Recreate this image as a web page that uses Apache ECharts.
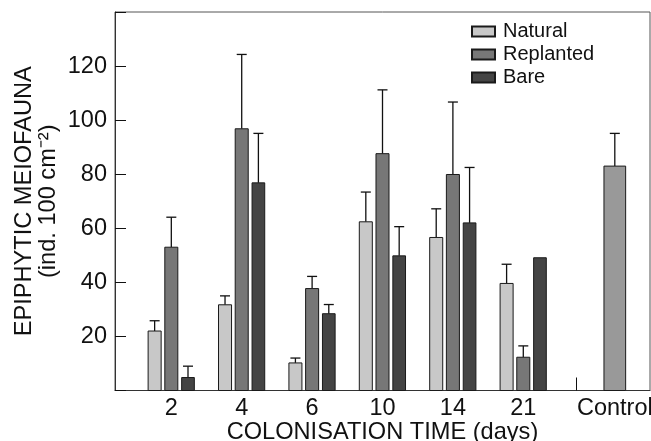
<!DOCTYPE html>
<html>
<head>
<meta charset="utf-8">
<script src="https://cdn.jsdelivr.net/npm/echarts@6/dist/echarts.min.js"></script>
<style>
  html, body { margin: 0; padding: 0; background: #fff; }
  #chart { width: 651px; height: 441px; }
</style>
</head>
<body>
<div id="chart"></div>
<script>
// categories (colonisation time, days) + control
const categories = ['2', '4', '6', '10', '14', '21', 'Control'];
const seriesNames = ['Natural', 'Replanted', 'Bare'];

// means and standard errors
const natural = [22, 31.7, 10.2, 62.4, 56.6, 39.6];
const naturalErr = [3.8, 3.3, 1.8, 11, 10.6, 7.1];
const replanted = [53, 96.8, 37.7, 87.6, 79.9, 12.3];
const replantedErr = [11.1, 27.5, 4.5, 23.6, 26.8, 4.2];
const bare = [4.8, 76.8, 28.4, 49.8, 62, 49.1];
const bareErr = [4.2, 18.3, 3.4, 10.8, 20.5, 0];
const control = [83];
const controlErr = [12.1];

const yTicks = [20, 40, 60, 80, 100, 120];

const FONT = "'Liberation Sans', Arial, sans-serif";
const chart = echarts.init(document.getElementById('chart'));

// x position of a category; the control sits a little further right
function pos(i) {
  return i < 6 ? i : i + 0.3;
}

function barSeries(name, values, errs, color, offset, width, startIdx) {
  return {
    type: 'custom',
    name: name,
    itemStyle: { color: color, borderColor: '#1a1a1a', borderWidth: 1 },
    data: values.map((v, i) => [pos(startIdx + i), v, errs[i]]),
    renderItem: (params, api) => {
      const x = api.value(0) + offset;
      const v = api.value(1);
      const e = api.value(2);
      const base = api.coord([x, 0]);
      const top = api.coord([x, v]);
      const w = api.size([width, 0])[0];
      const children = [];
      if (e > 0) {
        const tip = api.coord([x, v + e]);
        const ls = { stroke: '#111', lineWidth: 1.3 };
        children.push({ type: 'line', shape: { x1: tip[0], y1: top[1], x2: tip[0], y2: tip[1] }, style: ls });
        children.push({ type: 'line', shape: { x1: tip[0] - 5, y1: tip[1], x2: tip[0] + 5, y2: tip[1] }, style: ls });
      }
      children.push({
        type: 'rect',
        shape: { x: base[0] - w / 2, y: top[1], width: w, height: base[1] - top[1] },
        style: { fill: color, stroke: '#1a1a1a', lineWidth: 1 }
      });
      return { type: 'group', children: children };
    }
  };
}

const option = {
  backgroundColor: '#fff',
  animation: false,
  grid: {
    left: 115, top: 12, right: 1, bottom: 50.5,
    outerBoundsMode: 'none',
    containLabel: false,
    show: true, borderColor: '#555', borderWidth: 1
  },
  legend: {
    data: seriesNames,
    orient: 'vertical',
    left: 471, top: 21.5, padding: 0,
    itemWidth: 23, itemHeight: 10, itemGap: 3,
    icon: 'rect',
    textStyle: { fontFamily: FONT, fontSize: 20, color: '#111', lineHeight: 20, padding: [0, 0, 0, 3] }
  },
  xAxis: {
    type: 'value',
    min: -0.8, max: 6.8,
    name: 'COLONISATION TIME (days)',
    nameLocation: 'middle',
    nameGap: 29.5,
    nameMoveOverlap: false,
    nameTextStyle: { fontFamily: FONT, fontSize: 23.6, color: '#111' },
    axisLine: { show: true, onZero: false, lineStyle: { color: '#333' } },
    splitLine: { show: false },
    axisTick: { show: true, inside: true, length: 13, customValues: [5.75], lineStyle: { color: '#111' } },
    axisLabel: {
      customValues: categories.map((c, i) => pos(i)),
      formatter: (val) => {
        const i = categories.findIndex((c, k) => Math.abs(pos(k) - val) < 1e-6);
        return i >= 0 ? categories[i] : '';
      },
      margin: 6,
      fontFamily: FONT, fontSize: 23.5, color: '#111'
    }
  },
  yAxis: {
    type: 'value',
    min: 0, max: 140, interval: 20,
    name: 'EPIPHYTIC MEIOFAUNA\n(ind. 100 cm\u207B\u00B2)',
    nameLocation: 'middle',
    nameGap: 55,
    nameMoveOverlap: false,
    nameTextStyle: { fontFamily: FONT, fontSize: 23.6, color: '#111', lineHeight: 24 },
    axisLine: { show: true, onZero: false, lineStyle: { color: '#333' } },
    splitLine: { show: false },
    axisTick: { show: true, inside: true, length: 11, lineStyle: { color: '#111' } },
    axisLabel: {
      formatter: (val) => (yTicks.indexOf(val) >= 0 ? String(val) : ''),
      margin: 8,
      fontFamily: FONT, fontSize: 23.5, color: '#111'
    }
  },
  series: [
    barSeries('Natural', natural, naturalErr, '#c8c8c8', -0.237, 0.185, 0),
    barSeries('Replanted', replanted, replantedErr, '#777777', 0, 0.185, 0),
    barSeries('Bare', bare, bareErr, '#444444', 0.237, 0.18, 0),
    barSeries('Control', control, controlErr, '#999999', 0, 0.308, 6)
  ]
};

chart.setOption(option);
</script>
</body>
</html>
